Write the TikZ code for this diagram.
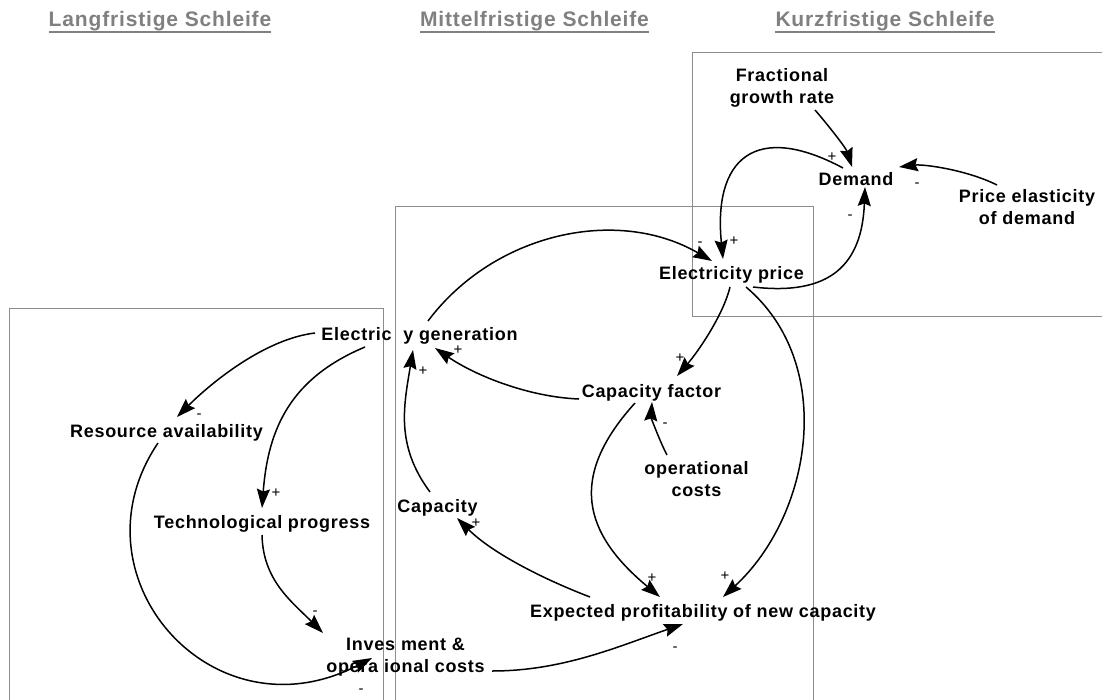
\documentclass[tikz,border=0pt]{standalone}
\usepackage{fontspec}
\setmainfont{Liberation Sans}
\newfontfamily\labfont[LetterSpace=4]{Liberation Sans}
\usetikzlibrary{arrows.meta}
\definecolor{boxgray}{RGB}{140,140,140}
\definecolor{headgray}{RGB}{128,128,128}
\tikzset{
  lab/.style={inner sep=0pt, anchor=base, align=center, font=\labfont\bfseries\fontsize{18}{22}\selectfont},
  head/.style={inner sep=0pt, anchor=base, text=headgray, font=\labfont\bfseries\fontsize{21}{25}\selectfont},
  headline/.style={draw=headgray, line width=2pt},
  pol/.style={inner sep=0pt, anchor=base, font=\fontsize{15}{17}\selectfont},
  frame/.style={draw=boxgray, line width=1pt},
  arr/.style={draw=black, line width=1.5pt, -{Stealth[length=19pt,width=13pt,inset=2.5pt]}}
}
\begin{document}
\begin{tikzpicture}[x=1pt,y=-1pt]
\useasboundingbox (0,0) rectangle (1102,700);
% frames
\draw[frame] (1102,53) -- (692,53) -- (692,317) -- (1102,317);
\draw[frame] (395,700) -- (395,207) -- (813,207) -- (813,700);
\draw[frame] (9,700) -- (9,309) -- (383,309) -- (383,700);
% headings
\node[head] (h1) at (160,27) {Langfristige Schleife};
\node[head] (h2) at (534.5,27) {Mittelfristige Schleife};
\node[head] (h3) at (885,27) {Kurzfristige Schleife};
\draw[headline] ([shift={(0,5)}]h1.base west) -- ([shift={(0,5)}]h1.base east);
\draw[headline] ([shift={(0,5)}]h2.base west) -- ([shift={(0,5)}]h2.base east);
\draw[headline] ([shift={(0,5)}]h3.base west) -- ([shift={(0,5)}]h3.base east);
% variables (base = baseline of last line)
\node[lab] (fgr) at (782,104) {Fractional\\growth rate};
\node[lab] (dem) at (856,186) {Demand};
\node[lab] (pe) at (1027,225) {Price elasticity\\of demand};
\node[lab] (ep) at (731.5,280) {Electricity price};
\node[lab] (eg) at (419.5,340) {Electric\phantom{it}y generation};
\node[lab] (ra) at (166.5,437) {Resource availability};
\node[lab] (tp) at (262,528) {Technological progress};
\node[lab] (cf) at (651.5,397) {Capacity factor};
\node[lab] (oc) at (696.5,496) {operational\\costs};
\node[lab] (cap) at (437.5,512) {Capacity};
\node[lab] (epn) at (703,617) {Expected profitability of new capacity};
\node[lab] (inv) at (405.5,672) {Inves\phantom{t}ment \&\\opera\phantom{t}ional costs};
% connectors
\draw[arr] ([shift={(33,6)}]fgr.base) .. controls (828,125) and (846,148) .. ([shift={(-4,-19)}]dem.base);
\draw[arr] ([shift={(-13,-18)}]dem.base) .. controls (755,121) and (713,159) .. ([shift={(-8.5,-21)}]ep.base);
\draw[arr] ([shift={(21.5,7)}]ep.base) .. controls (830,296) and (862,265) .. ([shift={(9,1)}]dem.base);
\draw[arr] ([shift={(-30,-40)}]pe.base) .. controls (967,170) and (924,164) .. ([shift={(43,-19)}]dem.base);
\draw[arr] ([shift={(8.5,-19)}]eg.base) .. controls (494,233) and (617,206) .. ([shift={(-19.5,-19)}]ep.base);
\draw[arr] ([shift={(-1.5,7)}]ep.base) .. controls (723,316) and (697,353) .. ([shift={(25.5,-21)}]cf.base);
\draw[arr] ([shift={(14.5,7)}]ep.base) .. controls (837,364) and (812,515) .. ([shift={(20,-20)}]epn.base);
\draw[arr] ([shift={(-72.5,2)}]cf.base) .. controls (529,397) and (476,376) .. ([shift={(15.5,8)}]eg.base);
\draw[arr] ([shift={(-7.5,-20)}]cap.base) .. controls (395,445) and (404,405) .. ([shift={(-6.5,10)}]eg.base);
\draw[arr] ([shift={(-16.5,6)}]cf.base) .. controls (568,477) and (583,533) .. ([shift={(-43,-20)}]epn.base);
\draw[arr] ([shift={(-29.5,-41)}]oc.base) .. controls (660,442) and (651,417) .. ([shift={(0.5,5)}]cf.base);
\draw[arr] ([shift={(-113,-20)}]epn.base) .. controls (543,579) and (492,553) .. ([shift={(19.5,6)}]cap.base);
\draw[arr] ([shift={(86.5,-1)}]inv.base) .. controls (562,671) and (617,647) .. ([shift={(-20,7)}]epn.base);
\draw[arr] ([shift={(-104.5,-7)}]eg.base) .. controls (265,339) and (212,382) .. ([shift={(10.5,-20)}]ra.base);
\draw[arr] ([shift={(-54.5,7)}]eg.base) .. controls (291,378) and (268,428) .. ([shift={(0,-20)}]tp.base);
\draw[arr] ([shift={(0,7)}]tp.base) .. controls (263,580) and (291,601) .. ([shift={(-82.5,-39)}]inv.base);
\draw[arr] ([shift={(-8.5,6)}]ra.base) .. controls (68,576) and (212,741) .. ([shift={(-33.5,-14)}]inv.base);
% polarities
\node[pol] (p1) at (832,162) {+};
\node[pol] (p2) at (734,246) {+};
\node[pol] (p3) at (850,220) {-};
\node[pol] (p4) at (917,188) {-};
\node[pol] (p5) at (700,247) {-};
\node[pol] (p6) at (680,362) {+};
\node[pol] (p7) at (725,580) {+};
\node[pol] (p8) at (458,354) {+};
\node[pol] (p9) at (423,375) {+};
\node[pol] (p10) at (652,582) {+};
\node[pol] (p11) at (665,427) {-};
\node[pol] (p12) at (476,527) {+};
\node[pol] (p13) at (675,651) {-};
\node[pol] (p14) at (199,418) {-};
\node[pol] (p15) at (276,497) {+};
\node[pol] (p16) at (315,615) {-};
\node[pol] (p17) at (361,693) {-};
\end{tikzpicture}
\end{document}
